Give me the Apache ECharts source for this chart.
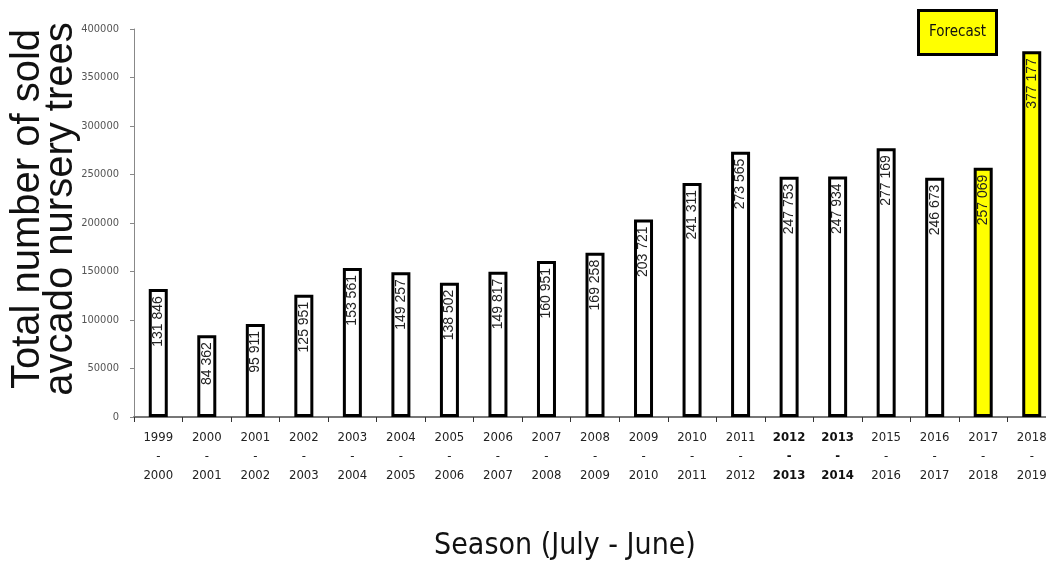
<!DOCTYPE html>
<html>
<head>
<meta charset="utf-8">
<script src="https://cdn.jsdelivr.net/npm/echarts@6/dist/echarts.min.js"></script>
<style>
  html, body { margin: 0; padding: 0; background: #fff; }
  #chart { width: 1046px; height: 564px; }
</style>
</head>
<body>
<div id="chart"></div>
<script>
// Seasons (July - June) and number of avocado nursery trees sold
const seasons = [
  '1999\n-\n2000', '2000\n-\n2001', '2001\n-\n2002', '2002\n-\n2003', '2003\n-\n2004',
  '2004\n-\n2005', '2005\n-\n2006', '2006\n-\n2007', '2007\n-\n2008', '2008\n-\n2009',
  '2009\n-\n2010', '2010\n-\n2011', '2011\n-\n2012', '2012\n-\n2013', '2013\n-\n2014',
  '2015\n-\n2016', '2016\n-\n2017', '2017\n-\n2018', '2018\n-\n2019'
];
const treesSold = [
  131846, 84362, 95911, 125951, 153561, 149257, 138502, 149817, 160951, 169258,
  203721, 241311, 273565, 247753, 247934, 277169, 246673, 257069, 377177
];
// Seasons that are forecasts rather than recorded sales
const forecastFlags = [
  false, false, false, false, false, false, false, false, false, false,
  false, false, false, false, false, false, false, true, true
];
const yTicks = { min: 0, max: 400000, interval: 50000 };

const condensed = '"Liberation Sans Narrow", "DejaVu Sans Condensed", "Liberation Sans", Arial, sans-serif';
const regular = '"Liberation Sans", Arial, sans-serif';

function spaced(v) {
  return String(v).replace(/\B(?=(\d{3})+(?!\d))/g, ' ');
}

const chart = echarts.init(document.getElementById('chart'));
chart.setOption({
  animation: false,
  backgroundColor: '#ffffff',
  title: {
    text: 'Forecast',
    left: 918,
    top: 10,
    backgroundColor: '#ffff00',
    borderColor: '#000',
    borderWidth: 3,
    padding: [15, 11, 15, 11],
    textStyle: { fontFamily: condensed, fontSize: 15, fontWeight: 'normal', color: '#111' }
  },
  grid: { left: 134, right: -10, top: 29, bottom: 147, outerBoundsMode: 'none', containLabel: false },
  xAxis: {
    type: 'category',
    data: seasons,
    axisLine: { lineStyle: { color: '#777', width: 2 } },
    axisTick: { show: true, alignWithLabel: false, length: 5, lineStyle: { color: '#333' } },
    axisLabel: {
      fontFamily: condensed,
      fontSize: 13,
      color: '#222',
      lineHeight: 19,
      margin: 11,
      interval: 0,
      formatter: function (v) {
        if (v.indexOf('2012') === 0 || v.indexOf('2013') === 0) return '{b|' + v.split('\n').join('}\n{b|') + '}';
        return v;
      },
      rich: { b: { fontFamily: condensed, fontSize: 13, fontWeight: 'bold', color: '#111', lineHeight: 19 } }
    },
    name: 'Season (July - June)',
    nameLocation: 'middle',
    nameGap: 114,
    nameMoveOverlap: false,
    nameTextStyle: { fontFamily: condensed, fontSize: 30, color: '#111', padding: [0, 60, 0, 0] }
  },
  yAxis: {
    type: 'value',
    min: yTicks.min,
    max: yTicks.max,
    interval: yTicks.interval,
    splitLine: { show: false },
    axisLine: { show: true, lineStyle: { color: '#888', width: 1 } },
    axisTick: { show: true, length: 4, lineStyle: { color: '#888' } },
    axisLabel: {
      fontFamily: condensed, fontSize: 11, color: '#555', margin: 15,
      formatter: function (v) { return String(v); }
    },
    name: 'Total number of sold\navcado nursery trees',
    nameLocation: 'middle',
    nameGap: 57,
    nameMoveOverlap: false,
    nameTextStyle: { fontFamily: regular, fontSize: 40, color: '#111', lineHeight: 33, padding: [0, 0, 0, 28] }
  },
  series: [{
    type: 'bar',
    data: treesSold.map(function (v, i) {
      return { value: v, itemStyle: { color: forecastFlags[i] ? '#ffff00' : '#ffffff' } };
    }),
    barWidth: 19,
    itemStyle: { borderColor: '#000', borderWidth: 3 },
    label: {
      show: true,
      position: 'insideTop',
      rotate: 90,
      align: 'right',
      verticalAlign: 'middle',
      distance: 7,
      fontFamily: regular,
      fontSize: 14,
      color: '#222',
      formatter: function (p) { return spaced(p.value); }
    }
  }]
});
</script>
</body>
</html>
